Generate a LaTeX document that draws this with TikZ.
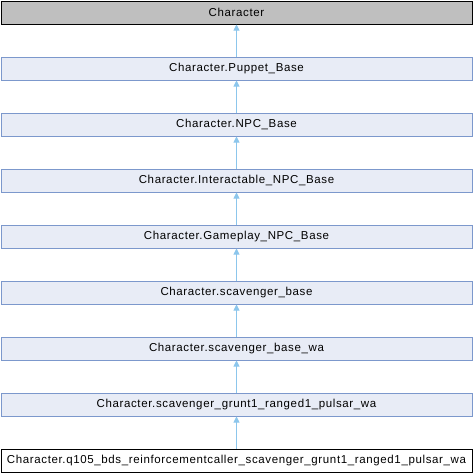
\documentclass[tikz,border=0pt]{standalone}
\usepackage{fontspec}
\setmainfont{Liberation Sans}[LetterSpace=5.5]
\usetikzlibrary{arrows.meta}
\definecolor{basefill}{HTML}{BFBFBF}
\definecolor{classfill}{HTML}{E8ECF6}
\definecolor{classedge}{HTML}{7C98CC}
\definecolor{inherit}{HTML}{8CC6EC}
\begin{document}
\begin{tikzpicture}[x=1pt,y=-1pt,
  cls/.style={draw=classedge,fill=classfill,line width=1pt,minimum width=471pt,minimum height=23pt,inner sep=0pt,font=\fontsize{11.5}{13}\selectfont,anchor=north},
  rootcls/.style={cls,draw=black,fill=basefill},
  leafcls/.style={cls,draw=black,fill=white},
  isa/.style={draw=inherit,line width=0.9pt,-{Triangle[open,length=6pt,width=6pt,fill=inherit]}}]
\useasboundingbox (0,0) rectangle (473,472);
\node[rootcls] (c0) at (236.5,0.5) {Character};
\node[cls] (c1) at (236.5,56.5) {Character.Puppet\_Base};
\node[cls] (c2) at (236.5,112.5) {Character.NPC\_Base};
\node[cls] (c3) at (236.5,168.5) {Character.Interactable\_NPC\_Base};
\node[cls] (c4) at (236.5,224.5) {Character.Gameplay\_NPC\_Base};
\node[cls] (c5) at (236.5,280.5) {Character.scavenger\_base};
\node[cls] (c6) at (236.5,336.5) {Character.scavenger\_base\_wa};
\node[cls] (c7) at (236.5,392.5) {Character.scavenger\_grunt1\_ranged1\_pulsar\_wa};
\node[leafcls] (c8) at (236.5,448.5) {Character.q105\_bds\_reinforcementcaller\_scavenger\_grunt1\_ranged1\_pulsar\_wa};
\foreach \a/\b in {c1/c0,c2/c1,c3/c2,c4/c3,c5/c4,c6/c5,c7/c6,c8/c7}
  \draw[isa] (\a.north) -- (\b.south);
\end{tikzpicture}
\end{document}
